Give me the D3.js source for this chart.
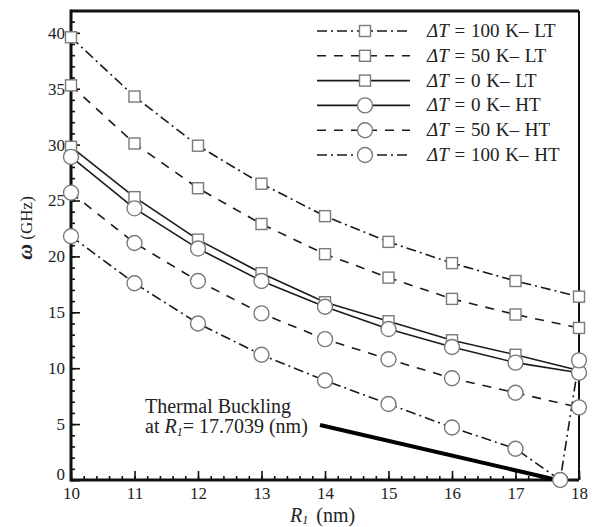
<!DOCTYPE html>
<html>
<head>
<meta charset="utf-8">
<script src="https://cdn.jsdelivr.net/npm/d3@7"></script>
<style>
  html, body { margin: 0; padding: 0; background: #fff; }
  svg { display: block; font-family: "Liberation Serif", "Times New Roman", serif; }
</style>
</head>
<body>
<svg id="chart" width="593" height="527"></svg>
<script>
// Radius R1 (nm) sampled at integer steps
const radii = [10, 11, 12, 13, 14, 15, 16, 17, 18];

// Natural frequency ω (GHz) per temperature case
const lt100 = [39.6, 34.3, 29.9, 26.5, 23.6, 21.3, 19.4, 17.8, 16.4];
const lt50  = [35.3, 30.1, 26.1, 22.9, 20.2, 18.1, 16.2, 14.8, 13.6];
const lt0   = [29.8, 25.3, 21.5, 18.5, 15.9, 14.2, 12.5, 11.2, 9.8];
const ht0   = [28.9, 24.3, 20.7, 17.8, 15.5, 13.5, 11.9, 10.5, 9.6];
const ht50  = [25.7, 21.2, 17.8, 14.9, 12.6, 10.8, 9.1, 7.8, 6.5];
// High-temperature 100 K case buckles at R1 = 17.7039 nm
const ht100Radii = [10, 11, 12, 13, 14, 15, 16, 17, 17.7039, 18];
const ht100 = [21.8, 17.6, 14.0, 11.2, 8.9, 6.8, 4.7, 2.8, 0, 10.7];

const bucklingR = 17.7039;

const xTicks = [10, 11, 12, 13, 14, 15, 16, 17, 18];
const yTicks = [0, 5, 10, 15, 20, 25, 30, 35, 40];

const seriesList = [
  { label: "100 K\u2013 LT", x: radii, y: lt100, dash: "10,4,2,4", marker: "square" },
  { label: "50 K\u2013 LT",  x: radii, y: lt50,  dash: "9,8",      marker: "square" },
  { label: "0 K\u2013 LT",   x: radii, y: lt0,   dash: null,       marker: "square" },
  { label: "0 K\u2013 HT",   x: radii, y: ht0,   dash: null,       marker: "circle" },
  { label: "50 K\u2013 HT",  x: radii, y: ht50,  dash: "9,8",      marker: "circle" },
  { label: "100 K\u2013 HT", x: ht100Radii, y: ht100, dash: "10,4,2,4", marker: "circle" }
];

const svg = d3.select("#chart");
const plotL = 71, plotR = 579, plotT = 11, plotB = 480;

const x = d3.scaleLinear().domain([10, 18]).range([plotL, plotR]);
const y = d3.scaleLinear().domain([0, 41.95]).range([plotB, plotT]);

const lineColor = "#1a1a1a";
const markerColor = "#7a7a7a";
const textColor = "#222";
const serif = "Liberation Serif, Times New Roman, serif";

// Frame
svg.append("line").attr("x1", plotL).attr("x2", plotR).attr("y1", plotT).attr("y2", plotT)
  .attr("stroke", "#111").attr("stroke-width", 3);
svg.append("line").attr("x1", plotR).attr("x2", plotR).attr("y1", plotT).attr("y2", plotB)
  .attr("stroke", "#111").attr("stroke-width", 2);

// Bottom axis with inward ticks
const xMinor = d3.range(10, 18.001, 0.2).map(v => +v.toFixed(1));
const xAxisMinor = d3.axisBottom(x).tickValues(xMinor).tickSize(-4).tickFormat("");
const xAxisMajor = d3.axisBottom(x).tickValues(xTicks).tickSize(-9).tickPadding(10).tickFormat(d3.format("d"));
const gxMinor = svg.append("g").attr("transform", `translate(0,${plotB})`).call(xAxisMinor);
const gx = svg.append("g").attr("transform", `translate(0,${plotB})`).call(xAxisMajor);
[gxMinor, gx].forEach(g => {
  g.select(".domain").remove();
  g.selectAll(".tick line").attr("stroke", "#111").attr("stroke-width", 1.6);
});
gx.selectAll(".tick text").attr("font-size", 17).attr("fill", textColor)
  .attr("font-family", serif).attr("dy", "0.55em");

// Left axis with inward ticks
const yMinor = d3.range(0, 42, 1);
const yAxisMinor = d3.axisLeft(y).tickValues(yMinor).tickSize(-4).tickFormat("");
const yAxisMajor = d3.axisLeft(y).tickValues(yTicks).tickSize(-9).tickPadding(6).tickFormat(d3.format("d"));
const gyMinor = svg.append("g").attr("transform", `translate(${plotL},0)`).call(yAxisMinor);
const gy = svg.append("g").attr("transform", `translate(${plotL},0)`).call(yAxisMajor);
[gyMinor, gy].forEach(g => {
  g.select(".domain").remove();
  g.selectAll(".tick line").attr("stroke", "#111").attr("stroke-width", 1.6);
});
gy.selectAll(".tick text").attr("font-size", 17).attr("fill", textColor)
  .attr("font-family", serif);
gy.selectAll(".tick").filter(d => d === 0).select("text").attr("dy", "-0.05em");

svg.append("line").attr("x1", plotL).attr("x2", plotR).attr("y1", plotB).attr("y2", plotB)
  .attr("stroke", "#111").attr("stroke-width", 3);
svg.append("line").attr("x1", plotL).attr("x2", plotL).attr("y1", plotT - 1.5).attr("y2", plotB + 1.5)
  .attr("stroke", "#111").attr("stroke-width", 3);

// Axis titles
const xTitle = svg.append("text").attr("x", 290).attr("y", 522)
  .attr("font-size", 20).attr("fill", textColor).attr("word-spacing", 3);
xTitle.append("tspan").attr("font-style", "italic").text("R");
xTitle.append("tspan").attr("font-style", "italic").attr("font-size", 12).attr("dy", 2).text("1");
xTitle.append("tspan").attr("dy", -2).text(" (nm)");

const yTitle = svg.append("text")
  .attr("transform", "translate(32,228) rotate(-90)")
  .attr("text-anchor", "middle").attr("fill", textColor);
yTitle.append("tspan").attr("font-style", "italic").attr("font-weight", "bold").attr("font-size", 22).text("\u03c9");
yTitle.append("tspan").attr("font-size", 17).text(" (GHz)");

// Series lines and markers
const lineGen = d3.line().x(d => x(d[0])).y(d => y(d[1]));

const sqSize = 11, circR = 7.5;
function drawMarker(g, kind, cx, cy) {
  if (kind === "square") {
    g.append("rect").attr("x", cx - sqSize / 2).attr("y", cy - sqSize / 2)
      .attr("width", sqSize).attr("height", sqSize)
      .attr("fill", "#fff").attr("stroke", markerColor).attr("stroke-width", 1.4);
  } else {
    g.append("circle").attr("cx", cx).attr("cy", cy).attr("r", circR)
      .attr("fill", "#fff").attr("stroke", markerColor).attr("stroke-width", 1.4);
  }
}

// Buckling pointer
svg.append("line")
  .attr("x1", 320).attr("y1", 425)
  .attr("x2", x(bucklingR) - 3).attr("y2", y(0))
  .attr("stroke", "#000").attr("stroke-width", 4);

const plot = svg.append("g");
seriesList.forEach(s => {
  const pts = s.x.map((v, i) => [v, s.y[i]]);
  plot.append("path").datum(pts).attr("d", lineGen)
    .attr("fill", "none").attr("stroke", lineColor).attr("stroke-width", 1.6)
    .attr("stroke-dasharray", s.dash);
});
seriesList.forEach(s => {
  const g = plot.append("g");
  s.x.forEach((v, i) => {
    if (s === seriesList[2] && v === 18) return;
    drawMarker(g, s.marker, x(v), y(s.y[i]));
  });
});

// Annotation text
const ann = svg.append("g").attr("fill", textColor).attr("font-size", 20);
ann.append("text").attr("x", 145).attr("y", 413).text("Thermal Buckling");
const ann2 = ann.append("text").attr("x", 145).attr("y", 433);
ann2.append("tspan").text("at ");
ann2.append("tspan").attr("font-style", "italic").text("R");
ann2.append("tspan").attr("font-style", "italic").attr("font-size", 12).attr("dy", 3).text("1");
ann2.append("tspan").attr("dy", -3).text("= " + bucklingR + " (nm)");

// Legend
const legend = svg.append("g");
const rowY0 = 31, rowStep = 24.8;
seriesList.forEach((s, i) => {
  const ry = rowY0 + i * rowStep;
  legend.append("line").attr("x1", 317).attr("x2", 410).attr("y1", ry).attr("y2", ry)
    .attr("stroke", lineColor).attr("stroke-width", 1.6).attr("stroke-dasharray", s.dash);
  drawMarker(legend, s.marker, 365, ry);
  const t = legend.append("text").attr("x", 427).attr("y", ry + 6)
    .attr("font-size", 19).attr("fill", textColor).attr("word-spacing", 1);
  t.append("tspan").attr("font-style", "italic").text("\u0394T");
  t.append("tspan").text(" = " + s.label);
});
</script>
</body>
</html>
